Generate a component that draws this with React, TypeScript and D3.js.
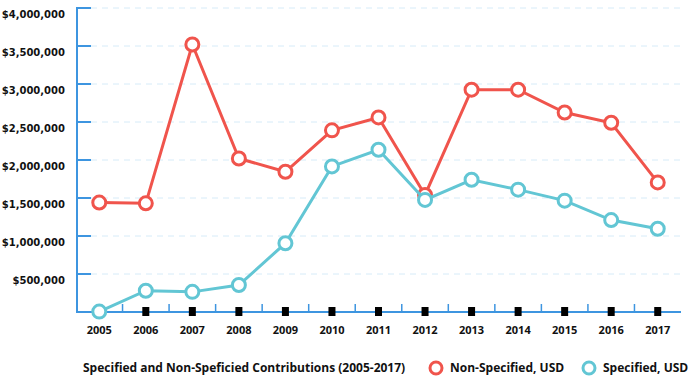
import React from "react";
import * as d3 from "d3";

const years = ["2005","2006","2007","2008","2009","2010","2011","2012","2013","2014","2015","2016","2017"];
const nonSpecified = [1440000,1430000,3520000,2020000,1845000,2390000,2560000,1540000,2925000,2925000,2625000,2490000,1705000];
const specified = [5000,280000,265000,355000,905000,1915000,2135000,1475000,1740000,1610000,1465000,1210000,1095000];
const yTicks = [500000,1000000,1500000,2000000,2500000,3000000,3500000,4000000];
const legendTitle = "Specified and Non-Speficied Contributions (2005-2017)";
const seriesNames = ["Non-Specified, USD", "Specified, USD"];

const RED = "#f0544c";
const CYAN = "#62c6d4";
const BLUE = "#3d95e0";

export default function App() {
  const W = 690, H = 386;
  const x = d3.scaleBand().domain(years).range([76, 681]);
  const y = d3.scaleLinear().domain([0, 4000000]).range([312, 8]);
  const cx = (d: string) => (x(d) as number) + x.bandwidth() / 2;
  const line = d3.line<number>().x((_, i) => cx(years[i])).y((v) => y(v));
  const fmt = (v: number) => "$" + d3.format(",")(v);
  const series = [
    { name: seriesNames[0], values: nonSpecified, color: RED },
    { name: seriesNames[1], values: specified, color: CYAN },
  ];
  const labelFont = "'Open Sans', sans-serif";
  return (
    <svg width={W} height={H} style={{ position: "absolute", left: 0, top: 0 }}>
      {yTicks.map((t) => (
        <g key={t}>
          <line x1={91} x2={681} y1={y(t)} y2={y(t)} stroke="#d6ebf8" strokeWidth={1} strokeDasharray="6,5" />
          <line x1={76} x2={91} y1={y(t)} y2={y(t)} stroke={BLUE} strokeWidth={2} />
          <text x={65} y={y(t) + 10} textAnchor="end" fontFamily="'DejaVu Sans', sans-serif" fontWeight="bold" fontSize={10} fill="#111">{fmt(t)}</text>
        </g>
      ))}
      <line x1={77} x2={77} y1={8} y2={313} stroke={BLUE} strokeWidth={2} />
      <line x1={76} x2={681} y1={312} y2={312} stroke={BLUE} strokeWidth={2} />
      {years.slice(1).map((yr) => (
        <line key={"bt" + yr} x1={x(yr) as number} x2={x(yr) as number} y1={304} y2={312} stroke={BLUE} strokeWidth={1.5} />
      ))}
      {years.map((yr) => (
        <g key={"xt" + yr}>
          <rect x={cx(yr) - 3.5} y={307} width={7} height={9} fill="#000" />
          <text x={cx(yr)} y={334} textAnchor="middle" fontFamily={labelFont} fontWeight="bold" fontSize={11} fill="#111">{yr}</text>
        </g>
      ))}
      {series.map((s) => (
        <g key={s.name}>
          <path d={line(s.values) as string} fill="none" stroke={s.color} strokeWidth={3} />
          {s.values.map((v, i) => (
            <circle key={i} cx={cx(years[i])} cy={y(v)} r={6.5} fill="#fff" stroke={s.color} strokeWidth={3} />
          ))}
        </g>
      ))}
      <text x={83} y={372} fontFamily={labelFont} fontWeight="bold" fontSize={12} fill="#111">{legendTitle}</text>
      <circle cx={436} cy={368} r={6} fill="#fff" stroke={RED} strokeWidth={3} />
      <text x={450} y={372} fontFamily={labelFont} fontWeight="bold" fontSize={12} fill="#111">{seriesNames[0]}</text>
      <circle cx={589} cy={368} r={6} fill="#fff" stroke={CYAN} strokeWidth={3} />
      <text x={603} y={372} fontFamily={labelFont} fontWeight="bold" fontSize={12} fill="#111">{seriesNames[1]}</text>
    </svg>
  );
}
